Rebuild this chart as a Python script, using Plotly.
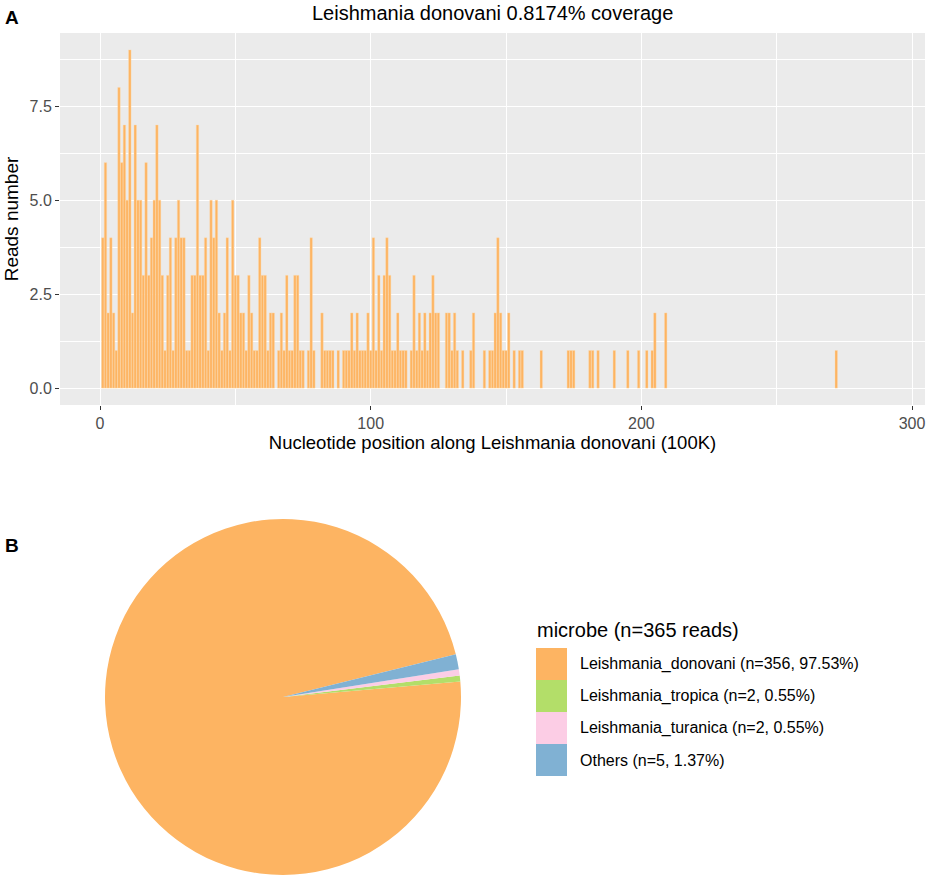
import plotly.graph_objects as go

# Panel A: reads per 100K bin along the L. donovani genome
positions = [1, 2, 3, 4, 5, 6, 7, 8, 9, 10, 11, 12, 13, 14, 15, 16, 17, 18, 19, 20,
             21, 22, 23, 24, 25, 26, 27, 28, 29, 30, 31, 32, 33, 34, 35, 36, 37, 38, 39, 40,
             41, 42, 43, 44, 45, 46, 47, 48, 49, 50, 51, 52, 53, 54, 55, 56, 57, 58, 59, 60,
             61, 62, 63, 64, 66, 67, 68, 69, 70, 71, 72, 73, 74, 75, 77, 78, 79,
             82, 83, 84, 85, 86, 88, 90, 91, 92, 93, 94, 95, 96, 97, 98, 99, 100,
             101, 102, 103, 104, 105, 106, 107, 108, 109, 110, 111, 112, 113, 115, 116, 117,
             118, 119, 120, 121, 122, 123, 124, 125, 128, 129, 130, 131, 132, 134, 137, 138,
             142, 144, 145, 146, 147, 148, 149, 150, 151, 153, 155, 156, 163, 173, 174, 175,
             181, 182, 184, 190, 195, 199, 202, 204, 205, 209, 272]
reads = [4, 6, 2, 4, 2, 1, 8, 6, 7, 5, 9, 2, 7, 5, 5, 3, 6, 3, 4, 5,
         7, 5, 3, 1, 3, 4, 1, 4, 5, 4, 4, 1, 1, 3, 3, 7, 3, 3, 4, 1,
         5, 4, 5, 2, 1, 2, 4, 1, 5, 3, 3, 2, 2, 1, 3, 2, 1, 1, 4, 3,
         3, 1, 2, 2, 1, 2, 1, 3, 1, 1, 3, 3, 1, 1, 1, 4, 1,
         2, 1, 1, 1, 1, 1, 1, 1, 1, 2, 1, 2, 1, 1, 1, 2, 1,
         4, 1, 3, 1, 3, 4, 3, 1, 1, 2, 1, 1, 1, 1, 3, 1,
         2, 1, 2, 1, 2, 3, 2, 2, 2, 2, 1, 2, 1, 1, 1, 2,
         1, 1, 1, 2, 4, 2, 1, 1, 2, 1, 1, 1, 1, 1, 1, 1,
         1, 1, 1, 1, 1, 1, 1, 1, 2, 2, 1]

x_ticks = [0, 100, 200, 300]
y_ticks = [0, 2.5, 5, 7.5]
y_ticktext = ['0.0', '2.5', '5.0', '7.5']

# Panel B: reads per microbe
microbes = ['Leishmania_donovani', 'Leishmania_tropica', 'Leishmania_turanica', 'Others']
counts = [356, 2, 2, 5]
colors = ['#FDB462', '#B3DE69', '#FCCDE5', '#80B1D3']

W, H = 935, 887


def px(x):
    return x / W


def py(y):
    return 1 - y / H


total = sum(counts)
labels = ['%s (n=%d, %.2f%%)' % (m, c, 100.0 * c / total) for m, c in zip(microbes, counts)]

fig = go.Figure()

fig.add_trace(go.Bar(x=positions, y=reads, width=0.9,
                     marker=dict(color='#FDB462', line=dict(color='#FFD9A8', width=0.4)),
                     showlegend=False, xaxis='x', yaxis='y'))

fig.add_trace(go.Pie(labels=microbes, values=counts, sort=False,
                     direction='counterclockwise', rotation=85,
                     marker=dict(colors=colors, line=dict(width=0)),
                     textinfo='none', showlegend=False,
                     domain=dict(x=[px(105), px(461)], y=[py(875), py(519)])))

fig.update_layout(
    width=W, height=H,
    margin=dict(l=0, r=0, t=0, b=0),
    paper_bgcolor='white',
    plot_bgcolor='#EBEBEB',
    font=dict(family='Liberation Sans, Arial, sans-serif', color='black'),
    xaxis=dict(domain=[px(60), px(925)], anchor='y', range=[-14.8, 304.8],
               tickvals=x_ticks, ticks='outside', ticklen=4, tickcolor='#333333',
               tickfont=dict(size=16, color='#4D4D4D'),
               showgrid=True, gridcolor='white', gridwidth=1.3, zeroline=False,
               minor=dict(tickvals=[50, 150, 250], showgrid=True, gridcolor='white',
                          gridwidth=0.6, ticks=''),
               title=dict(text='Nucleotide position along Leishmania donovani (100K)',
                          font=dict(size=18.5), standoff=2)),
    yaxis=dict(domain=[py(405), py(33)], anchor='x', range=[-0.45, 9.45],
               tickvals=y_ticks, ticktext=y_ticktext, ticks='outside', ticklen=4,
               tickcolor='#333333', tickfont=dict(size=16, color='#4D4D4D'),
               showgrid=True, gridcolor='white', gridwidth=1.3, zeroline=False,
               minor=dict(tickvals=[1.25, 3.75, 6.25, 8.75], showgrid=True,
                          gridcolor='white', gridwidth=0.6, ticks=''),
               title=dict(text='Reads number', font=dict(size=19), standoff=5)),
)

annotations = [
    dict(text='<b>A</b>', x=px(12), y=py(17), font=dict(size=19)),
    dict(text='<b>B</b>', x=px(12), y=py(545), font=dict(size=19)),
    dict(text='Leishmania donovani 0.8174% coverage', x=px(492), y=py(13),
         font=dict(size=20)),
    dict(text='microbe (n=365 reads)', x=px(535), y=py(630), xanchor='left',
         font=dict(size=20)),
]

shapes = []
key_top = 648
key_h = 32
for i, (lab, col) in enumerate(zip(labels, colors)):
    y0 = key_top + i * key_h
    shapes.append(dict(type='rect', xref='paper', yref='paper',
                       x0=px(536), x1=px(567), y0=py(y0), y1=py(y0 + key_h),
                       fillcolor=col, line=dict(width=0)))
    annotations.append(dict(text=lab, x=px(578), y=py(y0 + key_h / 2), xanchor='left',
                            font=dict(size=16)))

for a in annotations:
    a.setdefault('xanchor', 'center')
    a.update(xref='paper', yref='paper', yanchor='middle', showarrow=False)

fig.update_layout(annotations=annotations, shapes=shapes)

# drop the browser's default 8px body margin so the figure fills the window
fig.write_html('out.html', config={'displayModeBar': False},
               post_script="document.body.style.margin='0px';")
